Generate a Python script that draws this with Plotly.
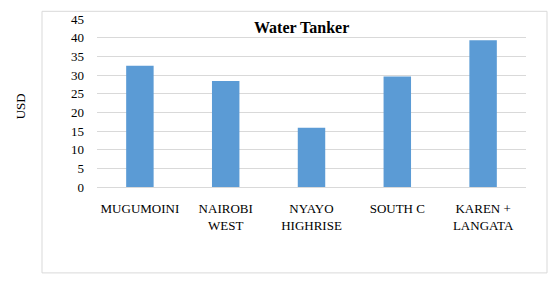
import plotly.graph_objects as go

categories = ["MUGUMOINI", "NAIROBI<br>WEST", "NYAYO<br>HIGHRISE", "SOUTH C", "KAREN +<br>LANGATA"]
values = [32.5, 28.4, 15.9, 29.6, 39.3]
y_ticks = [0, 5, 10, 15, 20, 25, 30, 35, 40, 45]

W, H = 552, 281
L, R, T, B = 97, 26, 12, 94
pw, ph = W - L - R, H - T - B

def px_x(x):
    return (x - L) / pw

def px_y(y):
    return (H - B - y) / ph

font = "Liberation Serif, Times New Roman, serif"

fig = go.Figure(go.Bar(
    x=categories, y=values, marker_color="#5B9BD5", marker_line_width=0, width=0.32,
))

fig.update_layout(
    width=W, height=H, margin=dict(l=L, r=R, t=T, b=B),
    paper_bgcolor="white", plot_bgcolor="white",
    showlegend=False,
    font=dict(family=font, size=13, color="#000000"),
    xaxis=dict(showgrid=False, showline=False, ticks="", tickfont=dict(size=13),
               ticklabelstandoff=12),
    yaxis=dict(range=[0, 45], tickvals=y_ticks, showgrid=True, gridcolor="#d9d9d9",
               gridwidth=1, zeroline=True, zerolinecolor="#d9d9d9", zerolinewidth=1,
               showline=False, ticks="", tickfont=dict(size=13), ticklabelstandoff=12),
    shapes=[dict(type="rect", xref="paper", yref="paper",
                 x0=px_x(42), x1=px_x(547), y0=px_y(276.5), y1=px_y(4),
                 line=dict(color="#d9d9d9", width=1), fillcolor="rgba(0,0,0,0)")],
    annotations=[
        dict(text="<b>Water Tanker</b>", xref="paper", yref="paper",
             x=px_x(301), y=px_y(21), showarrow=False, font=dict(size=16, family=font),
             xanchor="center", yanchor="middle"),
        dict(text="USD", xref="paper", yref="paper", x=px_x(20), y=px_y(103),
             showarrow=False, textangle=-90, font=dict(size=13, family=font),
             xanchor="center", yanchor="middle"),
    ],
)

fig.write_html("out.html", config={"displayModeBar": False},
               post_script="document.body.style.margin='0';document.body.style.padding='0';")
